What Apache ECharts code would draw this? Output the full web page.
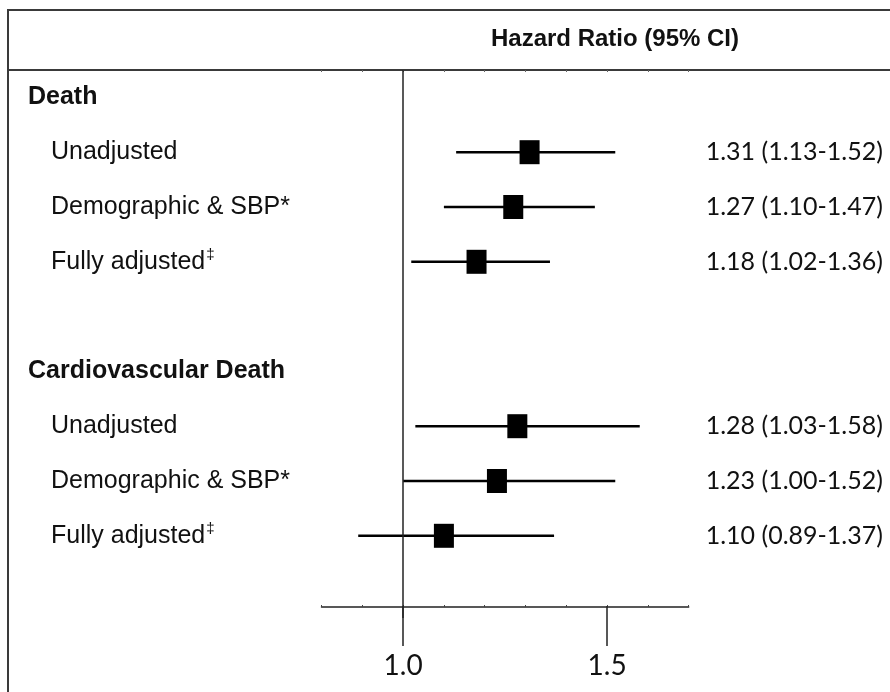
<!DOCTYPE html>
<html>
<head>
<meta charset="utf-8">
<script src="https://cdn.jsdelivr.net/npm/echarts@6/dist/echarts.min.js"></script>
<style>
html,body{margin:0;padding:0;background:#fff;}
#chart{width:890px;height:692px;}
</style>
</head>
<body>
<div id="chart"></div>
<script>
// ---- data ----
const groupNames = ['Death', 'Cardiovascular Death'];
const modelNames = ['Unadjusted', 'Demographic & SBP', 'Fully adjusted'];
const modelMarks = ['', '*', '‡'];
const hrValues = [[1.31, 1.27, 1.18], [1.28, 1.23, 1.10]];
const ciLow    = [[1.13, 1.10, 1.02], [1.03, 1.00, 0.89]];
const ciHigh   = [[1.52, 1.47, 1.36], [1.58, 1.52, 1.37]];
const axisMin = 0.8, axisMax = 1.7;
const tickValues = [1.0, 1.5];

// ---- build rows ----
const rows = [];
groupNames.forEach((g, gi) => {
  rows.push({kind: 'header', name: g});
  modelNames.forEach((m, mi) => {
    rows.push({kind: 'model', name: m, mark: modelMarks[mi],
      hr: hrValues[gi][mi], lo: ciLow[gi][mi], hi: ciHigh[gi][mi]});
  });
  rows.push({kind: 'blank', name: ''});
});
const rowKeys = rows.map((r, i) => 'r' + i);
const pointData = [], ciData = [];
rows.forEach((r, i) => {
  if (r.kind === 'model') {
    pointData.push([r.hr, i]);
    ciData.push([r.hr, i, r.lo, r.hi]);
  }
});

const TXT = '#111';
const chart = echarts.init(document.getElementById('chart'), null, {renderer: 'canvas'});

const leftFormatter = (v, i) => {
  const r = rows[i];
  if (!r) return '';
  if (r.kind === 'header') return '{h|' + r.name + '}';
  if (r.kind === 'model') {
    if (r.mark === '‡') return '{s|' + r.name + '}{sup|‡}';
    return '{s|' + r.name + r.mark + '}';
  }
  return '';
};
const rightFormatter = (v, i) => {
  const r = rows[i];
  if (!r || r.kind !== 'model') return '';
  return r.hr.toFixed(2) + ' (' + r.lo.toFixed(2) + '-' + r.hi.toFixed(2) + ')';
};

const option = {
  backgroundColor: '#fff',
  animation: false,
  graphic: [
    {type: 'rect', shape: {x: 8, y: 10, width: 900, height: 700},
     style: {fill: 'none', stroke: '#3a3a3a', lineWidth: 2}, z: 0},
    {type: 'line', shape: {x1: 8, y1: 70, x2: 890, y2: 70},
     style: {stroke: '#3a3a3a', lineWidth: 2}, z: 0},
    {type: 'text', x: 615, y: 39,
     style: {text: 'Hazard Ratio (95% CI)', fill: TXT, font: 'bold 24px "Liberation Sans", Arial, sans-serif',
       textAlign: 'center', textVerticalAlign: 'middle'}}
  ],
  grid: [
    {left: 321.5, right: 201.3, top: 70, bottom: 74},
    {left: 403.1, right: 282.9, top: 600, bottom: 46}
  ],
  xAxis: [
    {type: 'value', gridIndex: 0, min: axisMin, max: axisMax, interval: 0.1, position: 'bottom', offset: -11,
     axisLine: {show: true, onZero: false, lineStyle: {color: '#222', width: 1.5}},
     axisTick: {show: true, inside: true, length: 2, lineStyle: {color: '#444', width: 1}},
     axisLabel: {show: false}, splitLine: {show: false}},
    {type: 'value', gridIndex: 0, min: axisMin, max: axisMax, interval: 0.1, position: 'top',
     axisLine: {show: false, onZero: false},
     axisTick: {show: true, inside: true, length: 2, lineStyle: {color: '#666', width: 1}},
     axisLabel: {show: false}, splitLine: {show: false}},
    {type: 'value', gridIndex: 1, min: tickValues[0], max: tickValues[1], interval: tickValues[1] - tickValues[0], position: 'bottom',
     axisLine: {show: false, onZero: false},
     axisTick: {show: true, inside: true, length: 40, lineStyle: {color: '#222', width: 1.5}},
     axisLabel: {show: true, margin: 6, color: TXT, fontSize: 28, fontFamily: 'Lato, "Open Sans", sans-serif',
       formatter: v => v.toFixed(1)},
     splitLine: {show: false}}
  ],
  yAxis: [
    {type: 'category', gridIndex: 0, data: rowKeys, inverse: true, position: 'left',
     axisLine: {show: false}, axisTick: {show: false}, splitLine: {show: false},
     axisLabel: {show: true, interval: 0, align: 'left', margin: 293.5, formatter: leftFormatter,
       rich: {
         h: {fontSize: 25, fontWeight: 'bold', color: TXT, fontFamily: '"Liberation Sans", Arial, sans-serif', lineHeight: 28},
         s: {fontSize: 25, color: TXT, fontFamily: '"Liberation Sans", Arial, sans-serif', lineHeight: 28, padding: [0, 0, 0, 23]},
         sup: {fontSize: 15, color: TXT, fontFamily: '"Liberation Sans", Arial, sans-serif', lineHeight: 28, verticalAlign: 'top', padding: [0, 0, 12, 1]}
       }}},
    {type: 'category', gridIndex: 0, data: rowKeys, inverse: true, position: 'right',
     axisLine: {show: false}, axisTick: {show: false}, splitLine: {show: false},
     axisLabel: {show: true, interval: 0, align: 'left', margin: 17, formatter: rightFormatter,
       color: TXT, fontSize: 25, fontFamily: 'Lato, "Open Sans", sans-serif'}},
    {type: 'value', gridIndex: 1, min: 0, max: 1, show: false}
  ],
  series: [
    {type: 'custom', xAxisIndex: 0, yAxisIndex: 0, data: ciData, encode: {x: [0, 2, 3], y: 1}, z: 3,
     renderItem: (params, api) => {
       const y = api.value(1);
       const p1 = api.coord([api.value(2), y]);
       const p2 = api.coord([api.value(3), y]);
       return {type: 'line', shape: {x1: p1[0], y1: p1[1], x2: p2[0], y2: p2[1]},
         style: {stroke: '#000', lineWidth: 2.5}};
     },
     markLine: {silent: true, symbol: 'none', label: {show: false},
       lineStyle: {color: '#222', width: 1.5, type: 'solid'},
       data: [{xAxis: 1.0}]}},
    {type: 'scatter', xAxisIndex: 0, yAxisIndex: 0, data: pointData, symbol: 'rect', symbolSize: [20, 24],
     itemStyle: {color: '#000', opacity: 1}, z: 4},
    {type: 'scatter', xAxisIndex: 2, yAxisIndex: 2, data: []}
  ]
};
chart.setOption(option);
</script>
</body>
</html>
